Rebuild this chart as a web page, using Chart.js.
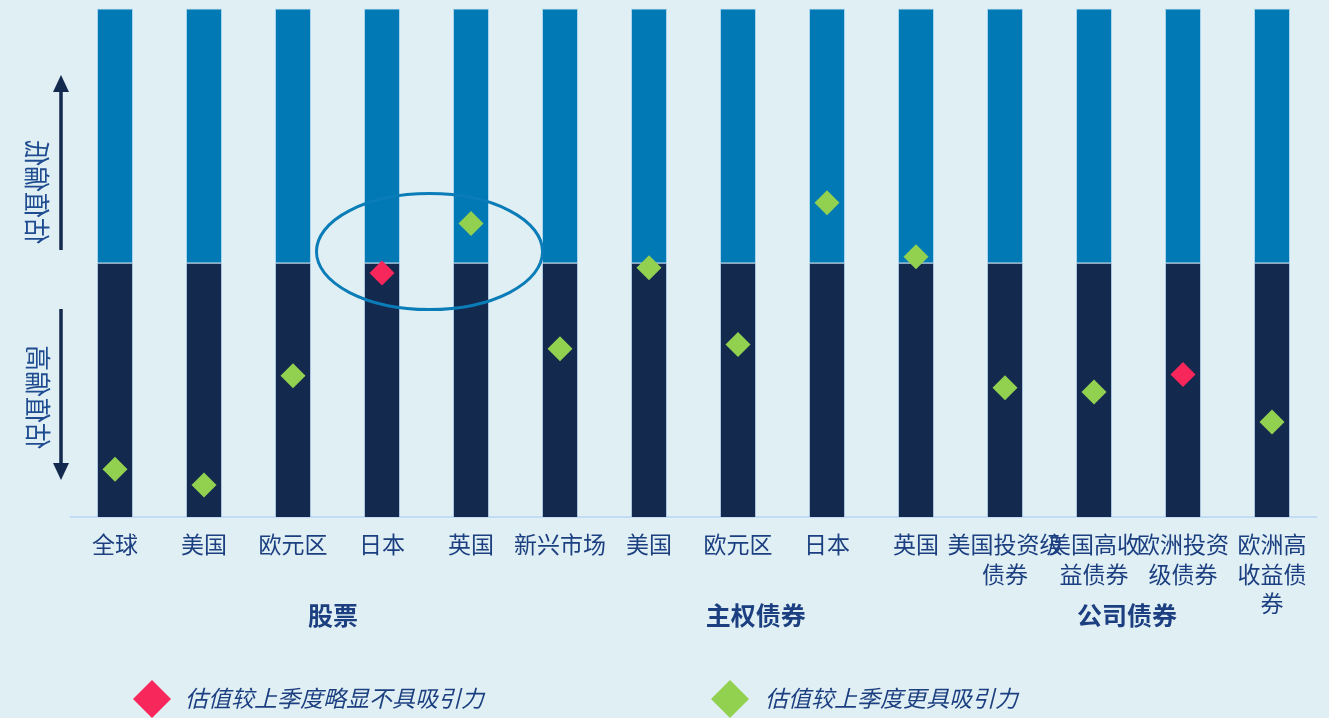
<!DOCTYPE html>
<html>
<head>
<meta charset="utf-8">
<script src="https://cdn.jsdelivr.net/npm/chart.js@4/dist/chart.umd.min.js"></script>
<style>
  html, body { margin: 0; padding: 0; background: #e0eff3; overflow: hidden; }
  #wrap { width: 1329px; height: 718px; position: relative; overflow: hidden; }
  canvas { display: block; position: absolute; left: 0; top: -4px; }
</style>
</head>
<body>
<div id="wrap"><canvas id="c" width="1329" height="722"></canvas></div>
<script>
// ---------- data ----------
const categories = [
  ['全球'], ['美国'], ['欧元区'], ['日本'], ['英国'], ['新兴市场'],
  ['美国'], ['欧元区'], ['日本'], ['英国'],
  ['美国投资级', '债券'], ['美国高收', '益债券'], ['欧洲投资', '级债券'], ['欧洲高', '收益债', '券']
];
const lowerBand = [50, 50, 50, 50, 50, 50, 50, 50, 50, 50, 50, 50, 50, 50];
const upperBand = [50, 50, 50, 50, 50, 50, 50, 50, 50, 50, 50, 50, 50, 50];
const valuation = [9.4, 6.3, 27.8, 48.0, 57.7, 33.1, 49.0, 33.9, 61.8, 51.2, 25.4, 24.6, 28.0, 18.7];
const direction = ['more', 'more', 'more', 'less', 'more', 'more', 'more', 'more', 'more', 'more', 'more', 'more', 'less', 'more'];
const groupNames = ['股票', '主权债券', '公司债券'];
const groupCenters = [2.45, 7.2, 11.37];
const legendLabels = ['估值较上季度略显不具吸引力', '估值较上季度更具吸引力'];
const sideLabels = ['估值偏低', '估值偏高'];

// ---------- styles ----------
const NAVY = '#13294e';
const BLUE = '#0079b4';
const GREEN = '#92d050';
const RED = '#f7265b';
const TEXT = '#1b3f80';
const FONT = '"Noto Sans CJK SC", "Noto Sans", sans-serif';
const OY = 4; // canvas is shifted up by this many pixels
const pointColors = direction.map(d => d === 'less' ? RED : GREEN);

const decor = {
  id: 'decor',
  afterDatasetsDraw(chart) {
    const ctx = chart.ctx;
    const x = chart.scales.x, y = chart.scales.y;
    // ellipse highlighting Japan / UK equities
    const cx = (x.getPixelForValue(3) + x.getPixelForValue(4)) / 2 + 3;
    const cy = y.getPixelForValue(52.2);
    const rx = (x.getPixelForValue(1) - x.getPixelForValue(0)) * 1.27;
    const ry = Math.abs(y.getPixelForValue(0) - y.getPixelForValue(11.4));
    ctx.save();
    ctx.strokeStyle = '#0a7cb7';
    ctx.lineWidth = 3;
    ctx.beginPath();
    ctx.ellipse(cx, cy, rx, ry, 0, 0, Math.PI * 2);
    ctx.stroke();
    ctx.restore();
  },
  afterDraw(chart) {
    const ctx = chart.ctx;
    const x = chart.scales.x;
    ctx.save();
    ctx.translate(0, OY);
    // side arrows
    ctx.strokeStyle = NAVY; ctx.fillStyle = NAVY; ctx.lineWidth = 3.5;
    const ax = 61;
    ctx.beginPath(); ctx.moveTo(ax, 250); ctx.lineTo(ax, 88); ctx.stroke();
    ctx.beginPath(); ctx.moveTo(ax, 75); ctx.lineTo(ax - 8, 92); ctx.lineTo(ax + 8, 92); ctx.closePath(); ctx.fill();
    ctx.beginPath(); ctx.moveTo(ax, 309); ctx.lineTo(ax, 467); ctx.stroke();
    ctx.beginPath(); ctx.moveTo(ax, 480); ctx.lineTo(ax - 8, 463); ctx.lineTo(ax + 8, 463); ctx.closePath(); ctx.fill();
    // side rotated (mirrored) labels
    ctx.fillStyle = '#1f4c90';
    ctx.font = '26px ' + FONT;
    ctx.textAlign = 'center'; ctx.textBaseline = 'middle';
    [[sideLabels[0], 37, 192], [sideLabels[1], 38, 397]].forEach(([t, px, py]) => {
      ctx.save(); ctx.translate(px, py); ctx.rotate(-Math.PI / 2); ctx.scale(1, -1); ctx.fillText(t, 0, 0); ctx.restore();
    });
    // group labels
    ctx.fillStyle = TEXT;
    ctx.font = 'bold 25px ' + FONT;
    groupNames.forEach((g, i) => ctx.fillText(g, x.getPixelForValue(groupCenters[i]), 615));
    // legend
    const items = [[RED, legendLabels[0], 152, 185], [GREEN, legendLabels[1], 730, 765]];
    ctx.font = 'italic 23px ' + FONT;
    ctx.textAlign = 'left';
    items.forEach(([col, t, mx, tx]) => {
      ctx.fillStyle = col;
      ctx.beginPath();
      ctx.moveTo(mx, 680); ctx.lineTo(mx + 19, 699); ctx.lineTo(mx, 718); ctx.lineTo(mx - 19, 699); ctx.closePath(); ctx.fill();
      ctx.fillStyle = TEXT;
      ctx.fillText(t, tx, 698);
    });
    ctx.restore();
  }
};

new Chart(document.getElementById('c'), {
  type: 'bar',
  data: {
    labels: categories,
    datasets: [
      { type: 'line', label: 'valuation', data: valuation, yAxisID: 'y2', showLine: false,
        pointStyle: 'rectRot', pointRadius: 12.5, pointHoverRadius: 12.5,
        pointBackgroundColor: pointColors, pointBorderColor: pointColors, pointBorderWidth: 0, order: 0 },
      { label: 'low', data: lowerBand, backgroundColor: NAVY, borderColor: 'rgba(140,175,215,0.6)', borderWidth: 1,
        categoryPercentage: 1, barPercentage: 0.405, order: 1 },
      { label: 'high', data: upperBand, backgroundColor: BLUE, borderColor: 'rgba(150,205,235,0.7)', borderWidth: 1,
        categoryPercentage: 1, barPercentage: 0.405, order: 1 }
    ]
  },
  options: {
    responsive: false,
    animation: false,
    devicePixelRatio: 1,
    layout: { padding: { left: 70.5, right: 12.5, top: 5, bottom: 0 } },
    plugins: { legend: { display: false }, tooltip: { enabled: false } },
    scales: {
      x: {
        stacked: true,
        grid: { display: true, color: 'transparent', drawOnChartArea: false, drawTicks: false },
        border: { display: true, color: '#c3dcf6', width: 2 },
        ticks: { autoSkip: false, maxRotation: 0, minRotation: 0, padding: 13, color: TEXT,
                 font: { family: FONT, size: 23, lineHeight: 1.27 } },
        afterFit(s) { s.height = 201; }
      },
      y: { stacked: true, min: 0, max: 100, display: false },
      y2: { min: 0, max: 100, display: false }
    }
  },
  plugins: [decor]
});
</script>
</body>
</html>
